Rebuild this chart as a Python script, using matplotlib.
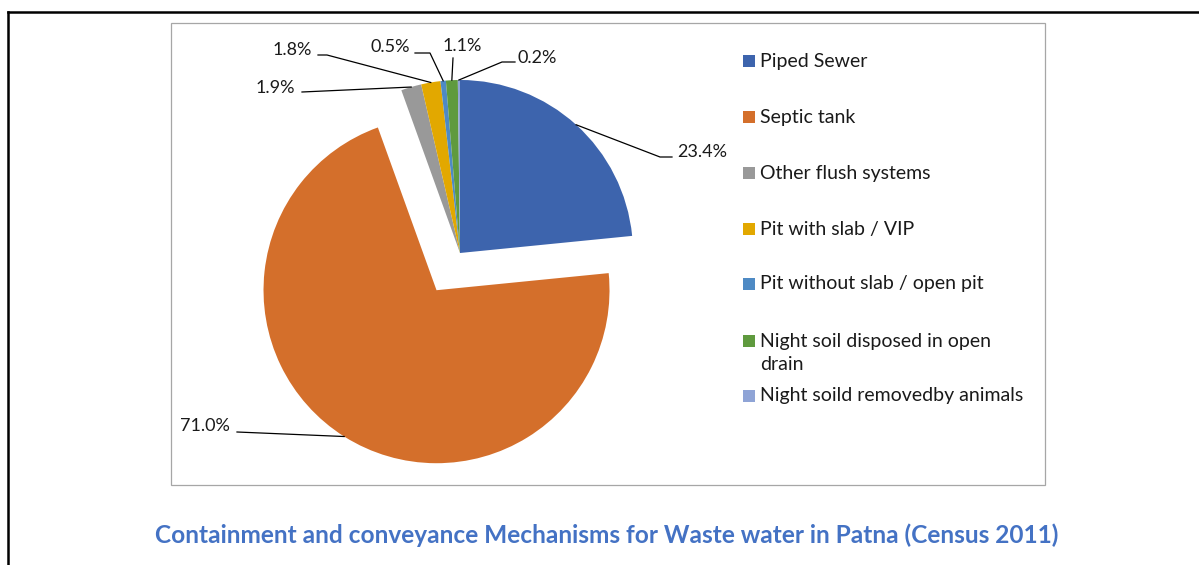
import numpy as np
import matplotlib
matplotlib.use("Agg")
import matplotlib.pyplot as plt
from matplotlib.patches import Rectangle
from matplotlib.lines import Line2D

categories = ["Piped Sewer", "Septic tank", "Other flush systems", "Pit with slab / VIP",
              "Pit without slab / open pit", "Night soil disposed in open\ndrain",
              "Night soild removedby animals"]
values = [23.4, 71.0, 1.9, 1.8, 0.5, 1.1, 0.2]
colors = ["#3D64AD", "#D46F2B", "#999999", "#E2A800", "#4E8AC4", "#5F9A3E", "#8FA4D6"]
title = "Containment and conveyance Mechanisms for Waste water in Patna (Census 2011)"

W, H = 1199, 565
fig = plt.figure(figsize=(W / 100, H / 100), dpi=100)
ax = fig.add_axes([0, 0, 1, 1])

def Y(y):
    return H - y

plt.rcParams['font.family'] = ['Lato', 'DejaVu Sans']
txt_color = "#1a1a1a"

# pie
cx, cy, R = 460, Y(253), 173
explode = [0, 44, 0, 0, 0, 0, 0]
wedges, _ = ax.pie(values, colors=colors, startangle=90, counterclock=False,
                   center=(cx, cy), radius=R, explode=explode, frame=True,
                   wedgeprops=dict(linewidth=0))

ax.set_xlim(0, W)
ax.set_ylim(0, H)
ax.set_aspect('equal')
ax.axis('off')

# frames
ax.add_line(Line2D([8, 8], [0, Y(12)], color='black', lw=1.8))
ax.add_line(Line2D([8, W], [Y(12), Y(12)], color='black', lw=1.8))
ax.add_patch(Rectangle((171, Y(485)), 1045 - 171, 485 - 23, fill=False,
                       edgecolor='#a6a6a6', lw=0.9))

# data labels: (text x, text y, ha, elbow points in pixel coords)
label_layout = [
    (677, 152, 'left', [(672, 157), (660, 157)]),
    (230, 426, 'right', [(237, 432)]),
    (295, 88, 'right', [(302, 92)]),
    (312, 50, 'right', [(318, 55), (327, 55)]),
    (410, 47, 'right', [(415, 53), (430, 53)]),
    (462, 46, 'center', [(453, 58)]),
    (517, 58, 'left', [(515, 62), (502, 62)]),
]
for w, v, (tx, ty, ha, pts) in zip(wedges, values, label_layout):
    ax.text(tx, Y(ty), f"{v:.1f}%", ha=ha, va='center', fontsize=13, color=txt_color)
    tm = np.deg2rad((w.theta1 + w.theta2) / 2)
    ex = w.center[0] + w.r * np.cos(tm)
    ey = w.center[1] + w.r * np.sin(tm)
    xs = [p[0] for p in pts] + [ex]
    ys = [Y(p[1]) for p in pts] + [ey]
    ax.add_line(Line2D(xs, ys, color='black', lw=0.9))

# legend
row_y = [61, 117, 173, 229, 284, 341, 396]
for c, lab, ry in zip(colors, categories, row_y):
    ax.add_patch(Rectangle((743, Y(ry) - 6), 12, 12, facecolor=c, edgecolor='none'))
    for i, line in enumerate(lab.split('\n')):
        ax.text(760, Y(ry + 24 * i), line, ha='left', va='center',
                fontsize=14, color=txt_color)

ax.text(607, Y(535), title, ha='center', va='center', fontsize=17.6,
        fontweight='bold', color='#4472C4')

fig.savefig('out.png', dpi=100)
